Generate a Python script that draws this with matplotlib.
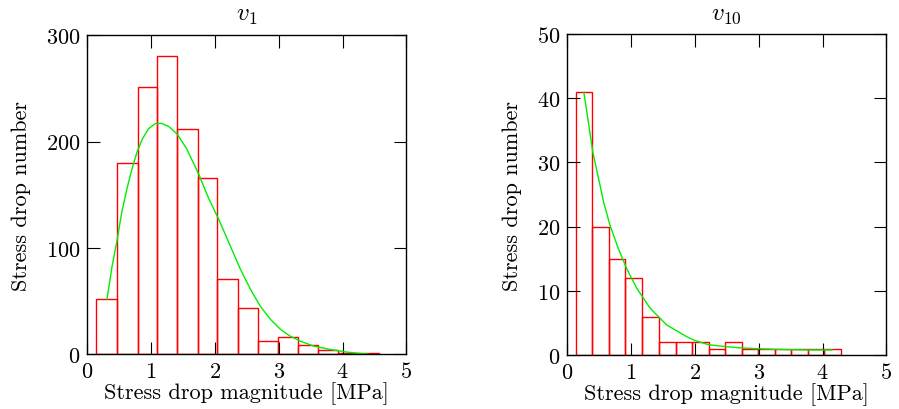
import numpy as np
import matplotlib
matplotlib.use("Agg")
import matplotlib.pyplot as plt

plt.rcParams['font.family'] = 'serif'
plt.rcParams['font.serif'] = ['cmr10']
plt.rcParams['mathtext.fontset'] = 'cm'
plt.rcParams['axes.formatter.use_mathtext'] = True

## v1 histogram (bin edges and counts)
v1_edges = [0.14, 0.47, 0.79, 1.10, 1.41, 1.73, 2.04, 2.36, 2.67, 2.99, 3.30, 3.62, 3.93, 4.25, 4.57]
v1_counts = [52, 180, 251, 280, 212, 166, 71, 44, 13, 16, 9, 4, 1, 1]
## fitted curve for v1
v1_fit_x = [0.31, 0.39, 0.47, 0.54, 0.62, 0.70, 0.78, 0.86, 0.96, 1.07, 1.17, 1.28, 1.41,
            1.56, 1.75, 1.90, 2.06, 2.22, 2.40, 2.56, 2.71, 2.87, 3.03, 3.18, 3.34,
            3.55, 3.81, 4.07, 4.28, 4.40]
v1_fit_y = [52, 83, 108, 133, 155, 174, 190, 202, 212, 217, 217, 214, 207,
            193, 169, 147, 127, 105, 80, 61, 45.5, 33, 23.5, 17.2, 12.5,
            7.8, 4.7, 2.2, 0.9, 0.5]

## v10 histogram
v10_edges = [0.137, 0.393, 0.655, 0.911, 1.173, 1.435, 1.696, 1.958, 2.214, 2.471,
             2.732, 2.994, 3.25, 3.512, 3.768, 4.03, 4.286]
v10_counts = [41, 20, 15, 12, 6, 2, 2, 2, 1, 2, 1, 1, 1, 1, 1, 1]
## fitted curve for v10
v10_fit_x = [0.26, 0.33, 0.40, 0.49, 0.57, 0.67, 0.80, 0.93, 1.09, 1.30, 1.56, 1.87,
             2.00, 2.21, 2.47, 2.73, 3.00, 3.25, 3.51, 3.77, 4.15]
v10_fit_y = [40.9, 36.3, 31.6, 27.5, 23.8, 20.2, 16.6, 13.5, 10.4, 7.3, 4.7, 2.9,
             2.3, 1.66, 1.35, 1.14, 1.02, 0.93, 0.87, 0.83, 0.83]

fig = plt.figure(figsize=(8.99, 4.10), dpi=100)
ax1 = fig.add_axes([0.097, 0.133, 0.355, 0.779])
ax2 = fig.add_axes([0.631, 0.131, 0.355, 0.784])

def draw(ax, edges, counts, fx, fy, title, ymax, yticks):
    edges = np.array(edges)
    ax.bar(edges[:-1], counts, width=np.diff(edges), align='edge',
           fill=False, edgecolor='#ff0000', linewidth=1.0)
    ax.plot(fx, fy, color='#00ee00', linewidth=1.0)
    ax.set_xlim(0, 5)
    ax.set_ylim(0, ymax)
    ax.set_xticks([0, 1, 2, 3, 4, 5])
    ax.set_yticks(yticks)
    ax.tick_params(direction='in', length=9, width=0.8, top=True, right=True,
                   labelsize=16, pad=5)
    for s in ax.spines.values():
        s.set_linewidth(1.0)
    ax.set_xlabel('Stress drop magnitude [MPa]', fontsize=16, labelpad=0)
    ax.set_ylabel('Stress drop number', fontsize=16, labelpad=11)
    ax.set_title(title, fontsize=18, pad=11)

draw(ax1, v1_edges, v1_counts, v1_fit_x, v1_fit_y, r'$v_1$', 300, [0, 100, 200, 300])
draw(ax2, v10_edges, v10_counts, v10_fit_x, v10_fit_y, r'$v_{10}$', 50, [0, 10, 20, 30, 40, 50])

fig.savefig('out.png', dpi=100)
